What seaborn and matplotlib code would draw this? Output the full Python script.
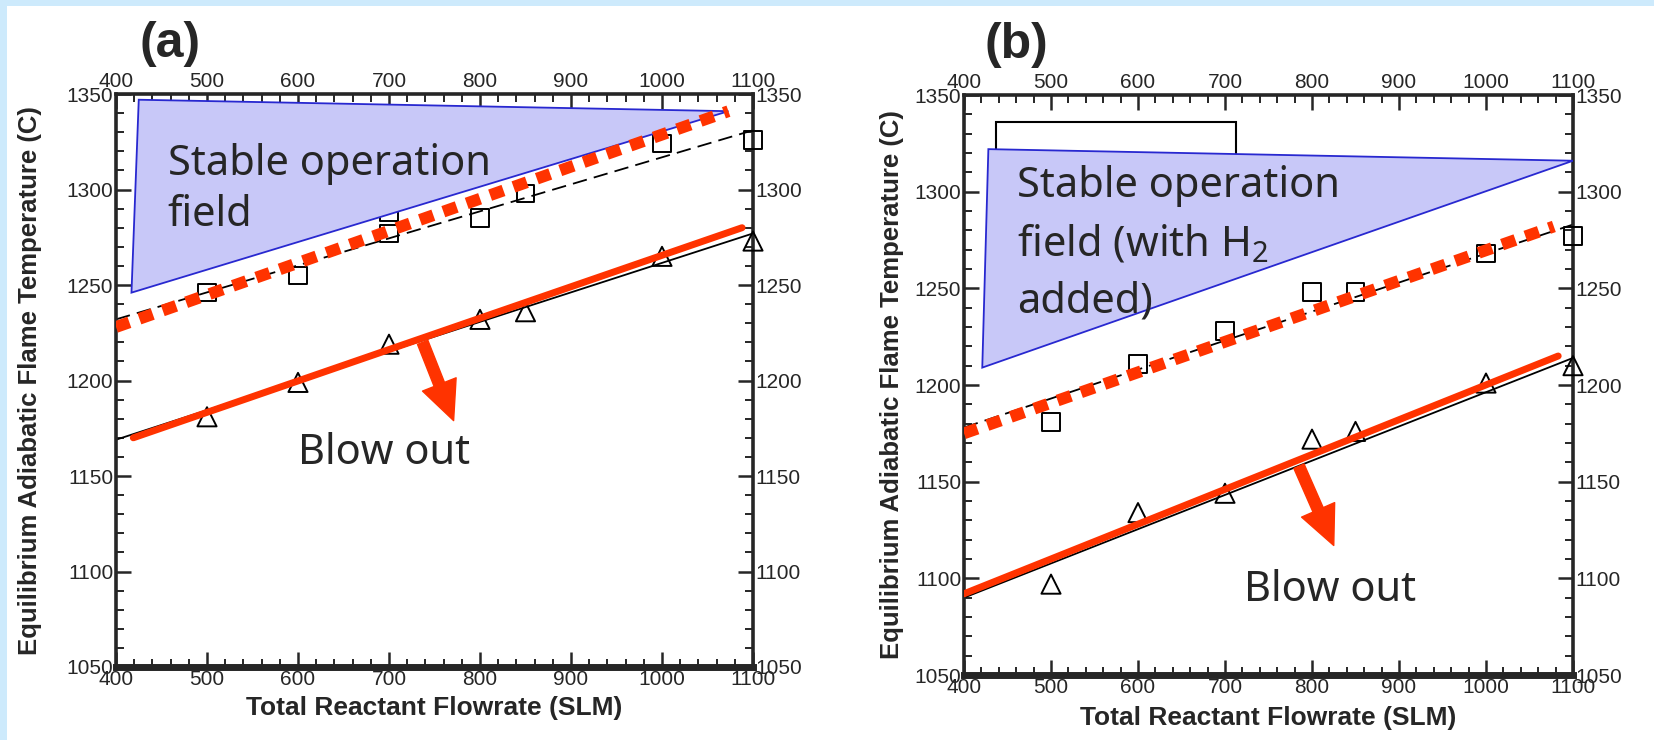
import numpy as np
import matplotlib
matplotlib.use("Agg")
import matplotlib.pyplot as plt
import seaborn as sns
from matplotlib.patches import Polygon, Rectangle

# ==========================================
# Data
# ==========================================

flow_sq_a = [500, 600, 700, 700, 800, 850, 1000, 1100]
temp_sq_a = [1246, 1255, 1277, 1288, 1285, 1298, 1324, 1326]
flow_tri_a = [500, 600, 700, 800, 850, 1000, 1100]
temp_tri_a = [1181, 1199, 1219, 1232, 1236, 1265, 1273]

flow_sq_b = [500, 600, 700, 800, 850, 1000, 1100]
temp_sq_b = [1181, 1211, 1228, 1248, 1248, 1268, 1277]
flow_tri_b = [500, 600, 700, 800, 850, 1000, 1100]
temp_tri_b = [1097, 1134, 1144, 1172, 1176, 1201, 1210]

# fitted lines (end points)
fit_dash_a_x, fit_dash_a_y = [400, 1100], [1232, 1331]
fit_solid_a_x, fit_solid_a_y = [400, 1100], [1169, 1277]
red_dot_a_x, red_dot_a_y = [400, 1073], [1228, 1341]
red_line_a_x, red_line_a_y = [419, 1088], [1170, 1280]

fit_dash_b_x, fit_dash_b_y = [400, 1100], [1178, 1283]
fit_solid_b_x, fit_solid_b_y = [400, 1100], [1090, 1214]
red_dot_b_x, red_dot_b_y = [400, 1078], [1175, 1282]
red_line_b_x, red_line_b_y = [400, 1083], [1092, 1215]

# stable operation regions (triangles)
stable_a = [(425, 1347), (1073, 1341), (417, 1246)]
stable_b = [(428, 1322), (1100, 1316), (421, 1209)]

# blow-out arrows: start -> tip
arrow_a = [(737, 1220), (771, 1179)]
arrow_b = [(785, 1158), (825, 1117)]

x_ticks = [400, 500, 600, 700, 800, 900, 1000, 1100]
y_ticks = [1050, 1100, 1150, 1200, 1250, 1300, 1350]

RED = "#ff3300"
FILL = "#c8c8f8"
EDGE = "#2828d0"

sns.set_style("ticks")
plt.rcParams["font.family"] = ["Liberation Sans", "DejaVu Sans"]
plt.rcParams["mathtext.fontset"] = "custom"
plt.rcParams["mathtext.rm"] = "Noto Sans"

fig = plt.figure(figsize=(16.54, 7.40), dpi=100)
fig.patch.set_facecolor("white")
fig.patches.append(Rectangle((0, 1 - 6 / 740), 1, 6 / 740, transform=fig.transFigure,
                             facecolor="#cdeafc", edgecolor="none", zorder=0))
fig.patches.append(Rectangle((0, 0), 7 / 1654, 1, transform=fig.transFigure,
                             facecolor="#cdeafc", edgecolor="none", zorder=0))

ax_a = fig.add_axes([116 / 1654, 73 / 740, 637 / 1654, 573 / 740])
ax_b = fig.add_axes([964 / 1654, 65 / 740, 609 / 1654, 580 / 740])


def style_axes(ax, xlab_y, ylab_x):
    ax.set_xlim(400, 1100)
    ax.set_ylim(1050, 1350)
    ax.set_xticks(x_ticks)
    ax.set_yticks(y_ticks)
    ax.set_xticks(np.arange(400, 1101, 20), minor=True)
    ax.set_yticks(np.arange(1050, 1351, 10), minor=True)
    ax.tick_params(which="both", direction="in", top=True, right=True,
                   labeltop=True, labelright=True, labelsize=15, pad=2)
    ax.tick_params(which="major", length=11, width=1.8)
    ax.tick_params(which="minor", length=6, width=1.4)
    for s in ax.spines.values():
        s.set_linewidth(2.6)
        s.set_visible(True)
    ax.spines["bottom"].set_linewidth(5)
    ax.set_xlabel("Total Reactant Flowrate (SLM)", fontsize=19, fontweight="bold")
    ax.set_ylabel("Equilibrium Adiabatic Flame Temperature (C)", fontsize=18.5,
                  fontweight="bold")
    ax.xaxis.set_label_coords(0.5, xlab_y)
    ax.yaxis.set_label_coords(ylab_x, 0.5)


def draw_panel(ax, sx, sy, tx, ty, dash, solid, rdot, rline, tri, arrow):
    sns.lineplot(x=dash[0], y=dash[1], ax=ax, color="black", linewidth=1.3,
                 linestyle=(0, (8, 4)), zorder=2)
    sns.lineplot(x=solid[0], y=solid[1], ax=ax, color="black", linewidth=1.3,
                 zorder=2)
    sns.scatterplot(x=sx, y=sy, ax=ax, marker="s", s=160, facecolor="none",
                    edgecolor="black", linewidth=1.4, zorder=3, clip_on=False)
    sns.scatterplot(x=tx, y=ty, ax=ax, marker="^", s=190, facecolor="none",
                    edgecolor="black", linewidth=1.4, zorder=3, clip_on=False)
    ax.add_patch(Polygon(tri, closed=True, facecolor=FILL, edgecolor=EDGE,
                         linewidth=1.3, zorder=4))
    sns.lineplot(x=rdot[0], y=rdot[1], ax=ax, color=RED, linewidth=8.5,
                 linestyle=(0, (1.2, 0.9)), zorder=5)
    sns.lineplot(x=rline[0], y=rline[1], ax=ax, color=RED, linewidth=5,
                 zorder=5)
    ax.annotate("", xy=arrow[1], xytext=arrow[0],
                arrowprops=dict(color=RED, width=8, headwidth=26, headlength=28,
                                shrink=0), zorder=6)


draw_panel(ax_a, flow_sq_a, temp_sq_a, flow_tri_a, temp_tri_a,
           (fit_dash_a_x, fit_dash_a_y), (fit_solid_a_x, fit_solid_a_y),
           (red_dot_a_x, red_dot_a_y), (red_line_a_x, red_line_a_y),
           stable_a, arrow_a)
ax_a.text(457, 1300, "Stable operation\nfield", fontsize=30, family="Noto Sans",
          ha="left", va="center", linespacing=1.3, zorder=7)
ax_a.text(600, 1162, "Blow out", fontsize=30, family="Noto Sans",
          ha="left", va="center", zorder=7)
style_axes(ax_a, -0.05, -0.116)

ax_b.add_patch(Rectangle((437, 1300), 276, 36, facecolor="white",
                         edgecolor="black", linewidth=1.5, zorder=3.5))
draw_panel(ax_b, flow_sq_b, temp_sq_b, flow_tri_b, temp_tri_b,
           (fit_dash_b_x, fit_dash_b_y), (fit_solid_b_x, fit_solid_b_y),
           (red_dot_b_x, red_dot_b_y), (red_line_b_x, red_line_b_y),
           stable_b, arrow_b)
ax_b.text(461, 1273, "Stable operation\nfield (with H$_2$\nadded)", fontsize=30,
          family="Noto Sans", ha="left", va="center", linespacing=1.45, zorder=7)
ax_b.text(722, 1094, "Blow out", fontsize=30, family="Noto Sans",
          ha="left", va="center", zorder=7)
style_axes(ax_b, -0.053, -0.098)

fig.text(170 / 1654, 1 - 44 / 740, "(a)", fontsize=36, fontweight="bold",
         ha="center", va="center")
fig.text(1016 / 1654, 1 - 45 / 740, "(b)", fontsize=36, fontweight="bold",
         ha="center", va="center")

fig.savefig("out.png", dpi=100)
